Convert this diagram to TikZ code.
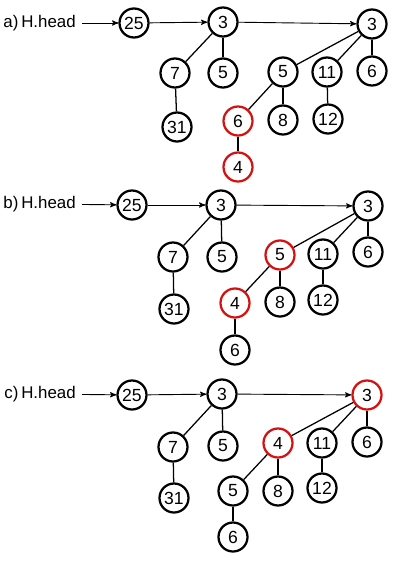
\documentclass[tikz,border=0pt]{standalone}
\usepackage{fontspec}
\setmainfont{Liberation Sans}
\usepackage{tikz}
\usetikzlibrary{
  arrows,
  chains,
  positioning,
  scopes
}
\definecolor{markred}{RGB}{212,18,18}

\begin{document}
\begin{tikzpicture}[
      x=0.025cm,y=-0.025cm,
      key/.style={
         circle,
         minimum size=7.25mm,
         inner sep=0pt,
         line width=1.6pt,
         draw=black,
         font=\fontsize{12.5}{14}\selectfont
      },
      marked/.style={
         key,
         draw=markred
      },
      head/.style={
         anchor=east,
         inner sep=0pt,
         inner xsep=1.5mm,
         font=\fontsize{12}{14}\selectfont
      },
      >=stealth',
      tip/.style={->,line width=0.65pt},
      edge/.style={line width=0.9pt}
    ]
  \useasboundingbox (0,0) rectangle (400,566);
  % a)
  \node (ah) [head] at (82,23) {a)\,H.head};
  \node (a25) [key] at (134,23) {25};
  \node (a3) [key] at (223,22) {3};
  \node (ar3) [key] at (372,24) {3};
  \node (a7) [key] at (175,73) {7};
  \node (a5) [key] at (223,73) {5};
  \node (a31) [key] at (177,127) {31};
  \node (ar5) [key] at (283,72) {5};
  \node (a11) [key] at (327,72) {11};
  \node (ar6) [key] at (372,71) {6};
  \node (a6) [marked] at (238,121) {6};
  \node (a8) [key] at (283,120) {8};
  \node (a12) [key] at (328,119) {12};
  \node (a4) [marked] at (238,167) {4};
  { [start chain]
       \chainin (ah);
       \chainin (a25)    [join=by tip];
       \chainin (a3)     [join=by tip];
       \chainin (ar3)    [join=by tip];
  }
  \draw[edge] (a3) -- (a7);
  \draw[edge] (a3) -- (a5);
  \draw[edge] (a7) -- (a31);
  \draw[edge] (ar3) -- (ar5);
  \draw[edge] (ar3) -- (a11);
  \draw[edge] (ar3) -- (ar6);
  \draw[edge] (ar5) -- (a6);
  \draw[edge] (ar5) -- (a8);
  \draw[edge] (a11) -- (a12);
  \draw[edge] (a6) -- (a4);
  % b)
  \node (bh) [head] at (82,204) {b)\,H.head};
  \node (b25) [key] at (132,205) {25};
  \node (b3) [key] at (221,205) {3};
  \node (br3) [key] at (368,206) {3};
  \node (b7) [key] at (173,257) {7};
  \node (b5) [key] at (222,257) {5};
  \node (b31) [key] at (174,309) {31};
  \node (br5) [marked] at (280,255) {5};
  \node (b11) [key] at (323,254) {11};
  \node (br6) [key] at (368,252) {6};
  \node (b4) [marked] at (235,303) {4};
  \node (b8) [key] at (280,302) {8};
  \node (b12) [key] at (323,300) {12};
  \node (b6) [key] at (235,350) {6};
  { [start chain]
       \chainin (bh);
       \chainin (b25)    [join=by tip];
       \chainin (b3)     [join=by tip];
       \chainin (br3)    [join=by tip];
  }
  \draw[edge] (b3) -- (b7);
  \draw[edge] (b3) -- (b5);
  \draw[edge] (b7) -- (b31);
  \draw[edge] (br3) -- (br5);
  \draw[edge] (br3) -- (b11);
  \draw[edge] (br3) -- (br6);
  \draw[edge] (br5) -- (b4);
  \draw[edge] (br5) -- (b8);
  \draw[edge] (b11) -- (b12);
  \draw[edge] (b4) -- (b6);
  % c)
  \node (ch) [head] at (82,394) {c)\,H.head};
  \node (c25) [key] at (132,395) {25};
  \node (c3) [key] at (222,394) {3};
  \node (cr3) [marked] at (367,395) {3};
  \node (c7) [key] at (173,447) {7};
  \node (c5) [key] at (223,446) {5};
  \node (c31) [key] at (174,498) {31};
  \node (c4) [marked] at (278,443) {4};
  \node (c11) [key] at (322,443) {11};
  \node (cr6) [key] at (367,442) {6};
  \node (cr5) [key] at (233,491) {5};
  \node (c8) [key] at (278,491) {8};
  \node (c12) [key] at (322,488) {12};
  \node (c6) [key] at (233,537) {6};
  { [start chain]
       \chainin (ch);
       \chainin (c25)    [join=by tip];
       \chainin (c3)     [join=by tip];
       \chainin (cr3)    [join=by tip];
  }
  \draw[edge] (c3) -- (c7);
  \draw[edge] (c3) -- (c5);
  \draw[edge] (c7) -- (c31);
  \draw[edge] (cr3) -- (c4);
  \draw[edge] (cr3) -- (c11);
  \draw[edge] (cr3) -- (cr6);
  \draw[edge] (c4) -- (cr5);
  \draw[edge] (c4) -- (c8);
  \draw[edge] (c11) -- (c12);
  \draw[edge] (cr5) -- (c6);
\end{tikzpicture}
\end{document}
